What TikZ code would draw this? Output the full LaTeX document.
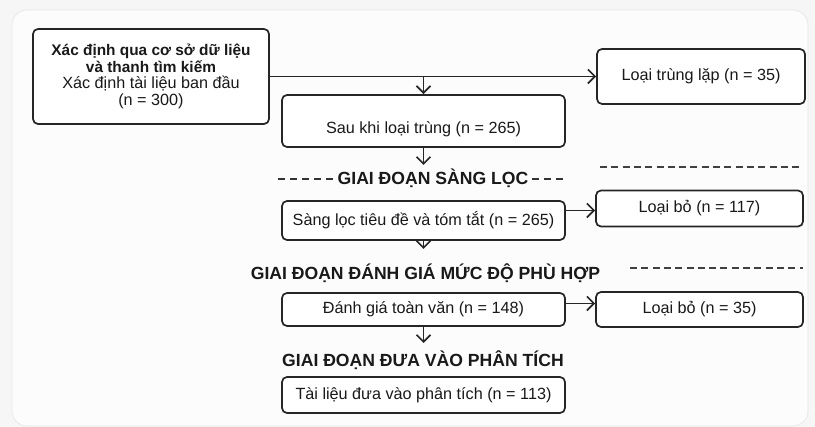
\documentclass[tikz,border=0pt]{standalone}
\usepackage{fontspec}
\setmainfont{Liberation Sans}
\usetikzlibrary{arrows.meta}
\begin{document}
\begin{tikzpicture}[x=1pt,y=-1pt,
  box/.style={draw=black!85, line width=1.7pt, rounded corners=5pt, fill=white, inner sep=0pt,
    font=\fontsize{16.2}{16.8}\selectfont, text=black!90, align=center},
  txt/.style={font=\fontsize{16.2}{16.8}\selectfont, text=black!90, align=center, inner sep=0pt},
  ttl/.style={font=\fontsize{17.6}{20}\selectfont\bfseries, text=black!90, inner sep=0pt, anchor=base},
  arr/.style={line width=1.5pt, draw=black!85, -{Straight Barb[length=7pt,width=14pt,line width=1.7pt]}},
  dsh/.style={line width=1.8pt, draw=black!80, dash pattern=on 7pt off 5pt},
  rdsh/.style={line width=1.5pt, draw=black!75, dash pattern=on 7pt off 4.3pt},
]
\useasboundingbox (0,0) rectangle (815,427);
\fill[gray!7] (0,0) rectangle (815,427);
\draw[fill=gray!2, draw=gray!18, line width=0.8pt, rounded corners=15pt] (12,10) rectangle (808,426);

% boxes
\node[box, minimum width=236pt, minimum height=95pt] (src) at (151,76.5)
  {{\fontsize{15.4}{16.8}\selectfont\bfseries Xác định qua cơ sở dữ liệu}\\{\fontsize{15.4}{16.8}\selectfont\bfseries và thanh tìm kiếm}\\Xác định tài liệu ban đầu\\(n = 300)};
\node[box, minimum width=208pt, minimum height=55pt] (dup) at (701,76.5) {Loại trùng lặp (n = 35)};
\node[box, minimum width=283pt, minimum height=52pt] (dedup) at (423.5,121) {};
\node[txt] (dedupt) at (423.5,129.5) {Sau khi loại trùng (n = 265)};
\node[box, minimum width=283pt, minimum height=39pt] (scr) at (423.5,220.5) {Sàng lọc tiêu đề và tóm tắt (n = 265)};
\node[box, minimum width=207pt, minimum height=36pt] (ex1) at (699.5,208.5) {Loại bỏ (n = 117)};
\node[box, minimum width=283pt, minimum height=33pt] (full) at (423.5,309.5) {Đánh giá toàn văn (n = 148)};
\node[box, minimum width=207pt, minimum height=35pt] (ex2) at (699.5,309.5) {Loại bỏ (n = 35)};
\node[box, minimum width=283pt, minimum height=36pt] (inc) at (423.5,395) {Tài liệu đưa vào phân tích (n = 113)};

% stage titles
\node[ttl] (t1) at (433,185) {GIAI ĐOẠN SÀNG LỌC};
\node[ttl] (t2) at (425.5,280) {GIAI ĐOẠN ĐÁNH GIÁ MỨC ĐỘ PHÙ HỢP};
\node[ttl] (t3) at (423,367) {GIAI ĐOẠN ĐƯA VÀO PHÂN TÍCH};

% dashes
\draw[dsh] (278,179) -- (333,179);
\draw[dsh] (532,179) -- (563,179);
\draw[rdsh] (600,167) -- (802,167);
\draw[rdsh] (630,268) -- (803,268);

% connectors
\coordinate (j1) at (src.east -| dedup.north);
\coordinate (a1) at (423.5,165);
\coordinate (a2) at (423.5,249);
\coordinate (a3) at (423.5,343);
\draw[arr] (src.east) -- (dup.west);
\draw[arr] (j1) -- (dedup.north);
\draw[arr] (dedup.south) -- (a1);
\draw[arr] ([yshift=10pt]scr.east) -- ([yshift=10pt]scr.east -| ex1.west);
\draw[arr] (scr.south) -- (a2);
\draw[arr] ([yshift=6pt]full.east) -- ([yshift=6pt]full.east -| ex2.west);
\draw[arr] (full.south) -- (a3);
\end{tikzpicture}
\end{document}
